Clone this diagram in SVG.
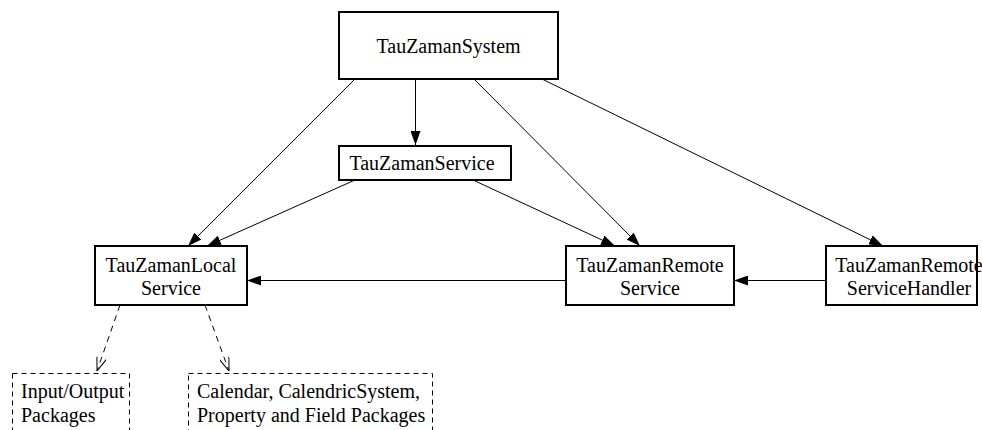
<svg xmlns="http://www.w3.org/2000/svg" width="982" height="430" viewBox="0 0 982 430">
<style>
.box{fill:#fff;stroke:#000;stroke-width:2}
.dbox{fill:none;stroke:#000;stroke-width:1;stroke-dasharray:5,4}
text{font-family:"Liberation Serif","Times New Roman",Times,serif;font-size:20px;fill:#000}
.c{text-anchor:middle}
.e{stroke:#000;stroke-width:1;fill:none}
.d{stroke:#000;stroke-width:1;fill:none;stroke-dasharray:6,5}
</style>
<defs>
<marker id="ah" markerWidth="14" markerHeight="10" refX="14" refY="5" orient="auto" markerUnits="userSpaceOnUse">
<path d="M0,0 L14,5 L0,10 Z" fill="#000"/>
</marker>
<marker id="oh" markerWidth="14" markerHeight="10" refX="14" refY="5" orient="auto" markerUnits="userSpaceOnUse">
<path d="M0,0 L14,5 L0,10" fill="none" stroke="#000" stroke-width="1"/>
</marker>
</defs>
<rect width="982" height="430" fill="#fff"/>
<g id="connectors">
<line class="e" x1="355" y1="79" x2="188" y2="246" marker-end="url(#ah)"/>
<line class="e" x1="415.5" y1="79" x2="415.5" y2="145" marker-end="url(#ah)"/>
<line class="e" x1="474" y1="79" x2="640" y2="246" marker-end="url(#ah)"/>
<line class="e" x1="542" y1="79" x2="883" y2="246" marker-end="url(#ah)"/>
<line class="e" x1="355" y1="180" x2="207" y2="246" marker-end="url(#ah)"/>
<line class="e" x1="473" y1="180" x2="615" y2="246" marker-end="url(#ah)"/>
<line class="e" x1="566" y1="280.5" x2="247" y2="280.5" marker-end="url(#ah)"/>
<line class="e" x1="826" y1="280.5" x2="734" y2="280.5" marker-end="url(#ah)"/>
<line class="d" x1="120" y1="305" x2="97" y2="371" marker-end="url(#oh)"/>
<line class="d" x1="205" y1="305" x2="229" y2="371" marker-end="url(#oh)"/>
</g>
<g id="system">
<rect class="box" x="339" y="12" width="219" height="67"/>
<text class="c" x="448.5" y="53">TauZamanSystem</text>
</g>
<g id="service">
<rect class="box" x="339" y="146" width="172" height="34"/>
<text class="c" x="422" y="170">TauZamanService</text>
</g>
<g id="local">
<rect class="box" x="95" y="246" width="152" height="59"/>
<text class="c" x="171" y="272">TauZamanLocal</text>
<text class="c" x="171" y="295">Service</text>
</g>
<g id="remote">
<rect class="box" x="566" y="246" width="168" height="59"/>
<text class="c" x="650" y="272">TauZamanRemote</text>
<text class="c" x="650" y="295">Service</text>
</g>
<g id="handler">
<rect class="box" x="826" y="246" width="151" height="59"/>
<text class="c" x="909" y="272">TauZamanRemote</text>
<text class="c" x="909" y="295">ServiceHandler</text>
</g>
<g id="io">
<rect class="dbox" x="12.5" y="373.5" width="117" height="70"/>
<text x="21" y="398">Input/Output</text>
<text x="21" y="422">Packages</text>
</g>
<g id="calendar">
<rect class="dbox" x="188.5" y="373.5" width="244" height="70"/>
<text x="197" y="398">Calendar, CalendricSystem,</text>
<text x="197" y="422">Property and Field Packages</text>
</g>
</svg>
